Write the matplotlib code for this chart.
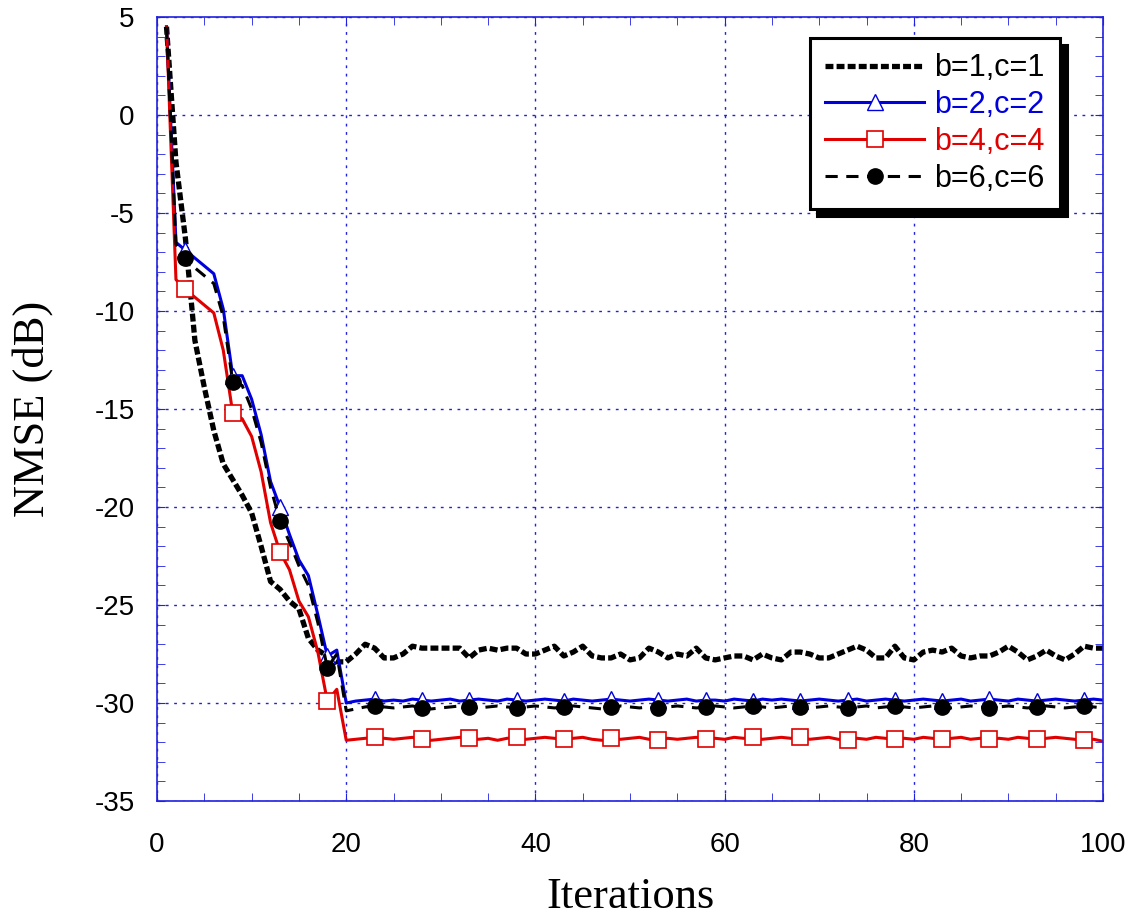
import numpy as np
import matplotlib
matplotlib.use("Agg")
import matplotlib.pyplot as plt
from matplotlib.ticker import MultipleLocator

# iterations 1..100
iters = np.arange(1, 101)

# b=1,c=1 (dotted)
nmse_b1_start = [4.5, -2.4, -6.3, -11.5, -13.9, -16.1, -17.8, -18.6, -19.4, -20.3,
                 -22.0, -23.8, -24.2, -24.8, -25.2, -26.7, -27.3, -27.6, -27.9]
nmse_b1_end = [-27.9, -27.5, -27.0, -27.2, -27.7, -27.7, -27.5, -27.1, -27.2, -27.2,
               -27.2, -27.2, -27.2, -27.7, -27.3, -27.2, -27.3, -27.2, -27.2, -27.5,
               -27.5, -27.3, -27.1, -27.6, -27.4, -27.1, -27.6, -27.7, -27.7, -27.5,
               -27.8, -27.7, -27.2, -27.4, -27.7, -27.5, -27.6, -27.2, -27.7, -27.8,
               -27.7, -27.6, -27.6, -27.8, -27.5, -27.7, -27.8, -27.4, -27.4, -27.5,
               -27.7, -27.7, -27.5, -27.3, -27.1, -27.3, -27.7, -27.7, -27.1, -27.7,
               -27.8, -27.4, -27.3, -27.4, -27.2, -27.6, -27.7, -27.6, -27.6, -27.4,
               -27.1, -27.4, -27.8, -27.6, -27.3, -27.6, -27.8, -27.5, -27.1, -27.2,
               -27.2]

# b=2,c=2 (blue, triangles)
nmse_b2_start = [4.5, -6.5, -6.9, -7.3, -7.7, -8.1, -9.9, -13.3, -13.3, -14.5,
                 -16.3, -18.7, -20.0, -21.4, -22.7, -23.5, -25.5, -27.6, -27.3]
nmse_b2_end = [-30.0, -29.9, -29.85, -29.8, -29.9, -29.85, -29.9, -29.8, -29.85, -29.9,
               -29.85, -29.8, -29.9, -29.85, -29.8, -29.85, -29.9, -29.8, -29.85, -29.9,
               -29.85, -29.8, -29.85, -29.9, -29.8, -29.85, -29.9, -29.85, -29.8, -29.85,
               -29.9, -29.85, -29.8, -29.85, -29.9, -29.85, -29.8, -29.9, -29.85, -29.85,
               -29.9, -29.8, -29.85, -29.9, -29.8, -29.85, -29.8, -29.85, -29.9, -29.85,
               -29.8, -29.85, -29.9, -29.85, -29.8, -29.9, -29.85, -29.8, -29.85, -29.9,
               -29.85, -29.8, -29.85, -29.9, -29.85, -29.8, -29.9, -29.85, -29.8, -29.85,
               -29.9, -29.8, -29.85, -29.9, -29.85, -29.8, -29.85, -29.9, -29.85, -29.8,
               -29.85]

# b=4,c=4 (red, squares)
nmse_b4_start = [4.5, -8.4, -8.9, -9.3, -9.7, -10.1, -12.0, -15.2, -15.5, -16.4,
                 -18.2, -20.8, -22.3, -23.2, -24.8, -25.6, -27.4, -29.9, -29.3]
nmse_b4_end = [-31.9, -31.85, -31.8, -31.75, -31.8, -31.85, -31.8, -31.75, -31.85, -31.9,
               -31.85, -31.8, -31.75, -31.8, -31.85, -31.8, -31.9, -31.8, -31.75, -31.85,
               -31.8, -31.75, -31.8, -31.85, -31.8, -31.75, -31.85, -31.9, -31.8, -31.85,
               -31.8, -31.75, -31.85, -31.9, -31.8, -31.85, -31.8, -31.75, -31.85, -31.8,
               -31.85, -31.75, -31.8, -31.75, -31.85, -31.8, -31.75, -31.8, -31.75, -31.85,
               -31.8, -31.75, -31.85, -31.9, -31.8, -31.85, -31.75, -31.8, -31.85, -31.8,
               -31.85, -31.75, -31.8, -31.85, -31.8, -31.75, -31.85, -31.8, -31.85, -31.8,
               -31.85, -31.75, -31.8, -31.85, -31.8, -31.75, -31.8, -31.85, -31.9, -31.85,
               -31.95]

# b=6,c=6 (black dashed, circles)
nmse_b6_start = [4.5, -6.6, -7.3, -7.8, -8.2, -8.6, -10.3, -13.6, -13.8, -15.0,
                 -16.7, -19.0, -20.7, -21.8, -23.0, -24.0, -25.9, -28.2, -27.5]
nmse_b6_end = [-30.4, -30.3, -30.2, -30.15, -30.2, -30.25, -30.2, -30.15, -30.25, -30.3,
               -30.25, -30.2, -30.15, -30.2, -30.25, -30.2, -30.15, -30.2, -30.25, -30.2,
               -30.15, -30.2, -30.25, -30.2, -30.15, -30.2, -30.25, -30.3, -30.2, -30.15,
               -30.2, -30.25, -30.2, -30.25, -30.2, -30.15, -30.2, -30.25, -30.2, -30.15,
               -30.2, -30.25, -30.2, -30.15, -30.2, -30.25, -30.2, -30.15, -30.2, -30.25,
               -30.2, -30.15, -30.2, -30.25, -30.2, -30.15, -30.25, -30.2, -30.15, -30.2,
               -30.25, -30.2, -30.15, -30.2, -30.25, -30.2, -30.15, -30.2, -30.25, -30.2,
               -30.15, -30.2, -30.25, -30.2, -30.15, -30.2, -30.25, -30.2, -30.15, -30.2,
               -30.25]

labels = ["b=1,c=1", "b=2,c=2", "b=4,c=4", "b=6,c=6"]

b1 = nmse_b1_start + nmse_b1_end
b2 = nmse_b2_start + nmse_b2_end
b4 = nmse_b4_start + nmse_b4_end
b6 = nmse_b6_start + nmse_b6_end

blue = "#0000dd"
red = "#e00000"
axcol = "#2020e0"

plt.rcParams["font.family"] = ["Liberation Sans", "DejaVu Sans"]
plt.rcParams["axes.unicode_minus"] = False

fig = plt.figure(figsize=(11.43, 9.22), dpi=100)
ax = fig.add_axes([0.1374, 0.1312, 0.8276, 0.8504])

marks = slice(2, None, 5)
ax.plot(iters, b1, color="k", lw=3.8, linestyle=(0, (1.5, 0.6)), label=labels[0])
ax.plot(iters, b2, color=blue, lw=2.2, marker="^", markevery=marks, markersize=11,
        markerfacecolor="white", markeredgecolor=blue, markeredgewidth=1.0, label=labels[1])
ax.plot(iters, b4, color=red, lw=2.2, marker="s", markevery=marks, markersize=11,
        markerfacecolor="white", markeredgecolor=red, markeredgewidth=1.2, label=labels[2])
ax.plot(iters, b6, color="k", lw=2.2, linestyle=(0, (4, 2.8)), marker="o", markevery=marks,
        markersize=11, label=labels[3])

ax.set_xlim(0, 100)
ax.set_ylim(-35, 5)
ax.xaxis.set_major_locator(MultipleLocator(20))
ax.xaxis.set_minor_locator(MultipleLocator(5))
ax.yaxis.set_major_locator(MultipleLocator(5))
ax.yaxis.set_minor_locator(MultipleLocator(1))

ax.grid(True, which="major", color=axcol, linestyle=(0, (2, 4)), lw=1.0)
for s in ax.spines.values():
    s.set_color(axcol)
    s.set_linewidth(1.2)
ax.tick_params(which="both", direction="in", top=True, right=True, color=axcol,
               labelsize=20, labelcolor="k")
ax.tick_params(which="major", length=6)
ax.tick_params(which="minor", length=6)
ax.tick_params(axis="x", pad=22)
ax.tick_params(axis="y", pad=16)

ax.set_xlabel("Iterations", family="Liberation Serif", fontsize=32, labelpad=14)
ax.set_ylabel("NMSE (dB)", family="Liberation Serif", fontsize=32, labelpad=30)

leg = ax.legend(loc="upper right", bbox_to_anchor=(0.9545, 0.973), borderaxespad=0,
                fontsize=22, handlelength=3.25, handletextpad=0.33, labelspacing=0.22,
                borderpad=0.5, fancybox=False, framealpha=1, edgecolor="k",
                shadow={"ox": 5, "oy": -5, "facecolor": "k", "edgecolor": "k", "alpha": 1})
leg.get_frame().set_linewidth(2.2)
for t, c in zip(leg.get_texts(), ["k", blue, red, "k"]):
    t.set_color(c)

fig.savefig("out.png", dpi=100)
